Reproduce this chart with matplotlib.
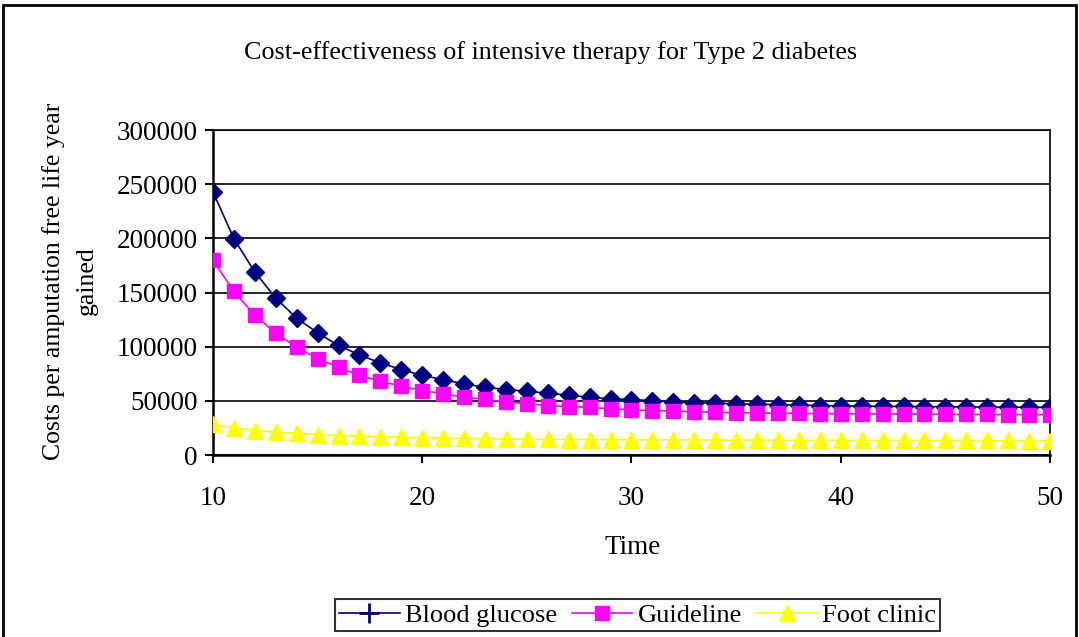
import matplotlib
matplotlib.use("Agg")
import matplotlib.pyplot as plt
from matplotlib.lines import Line2D
from matplotlib.patches import Rectangle

plt.rcParams["font.family"] = ["Liberation Serif", "DejaVu Serif"]

# x axis: time in years
years = list(range(10, 51))

blood_glucose = [242800, 199600, 168900, 144800, 126300, 112800, 101100, 92400, 85000, 78900,
                 73400, 69700, 65600, 62600, 60400, 58900, 57000, 55200, 53300, 51800,
                 51200, 50200, 48700, 48300, 47800, 47300, 46900, 46500, 46000, 45700,
                 45400, 45200, 45000, 44800, 44700, 44500, 44400, 44300, 44200, 44100, 44000]

guideline = [179700, 151000, 128800, 112500, 99500, 88700, 81100, 73400, 68100, 63500,
             59500, 56400, 53400, 51300, 49000, 47300, 45700, 44700, 44000, 42600,
             41700, 41000, 40600, 39800, 39300, 39000, 38800, 38600, 38400, 38200,
             38100, 38000, 37900, 37800, 37600, 37500, 37400, 37400, 37300, 37300, 37200]

foot_clinic = [28400, 24700, 22600, 21000, 20100, 18900, 18000, 17300, 16900, 16400,
               15900, 15600, 15300, 15000, 14800, 14600, 14400, 14300, 14200, 14100,
               14000, 13900, 13900, 13800, 13800, 13700, 13700, 13700, 13600, 13600,
               13600, 13500, 13500, 13500, 13500, 13400, 13400, 13400, 13400, 13300, 13300]

series_names = ["Blood glucose", "Guideline", "Foot clinic"]
y_ticks = [0, 50000, 100000, 150000, 200000, 250000, 300000]
x_ticks = [10, 20, 30, 40, 50]

navy = "#000080"
magenta = "#FF00FF"
yellow = "#FFFF00"

fig = plt.figure(figsize=(10.79, 6.37), dpi=100)
ax = fig.add_axes([0.1974, 0.2857, 0.7757, 0.5102])

ax.plot(years, foot_clinic, color=yellow, lw=1.2, marker="^", ms=11,
        markerfacecolor=yellow, markeredgecolor=yellow, zorder=3)
ax.plot(years, guideline, color=magenta, lw=1.2, marker="s", ms=10,
        markerfacecolor=magenta, markeredgecolor=magenta, zorder=3)
ax.plot(years, blood_glucose, color=navy, lw=1.2, marker="D", ms=9.5,
        markerfacecolor=navy, markeredgecolor=navy, zorder=2.9)

ax.set_xlim(10, 50)
ax.set_ylim(0, 300000)
ax.set_xticks(x_ticks)
ax.set_yticks(y_ticks)
ax.set_yticklabels([str(v) for v in y_ticks])
ax.yaxis.grid(True, color="black", lw=1.2)
ax.set_axisbelow(True)
for s in ax.spines.values():
    s.set_color("black")
    s.set_linewidth(1.2)
ax.spines["left"].set_linewidth(1.8)
ax.spines["bottom"].set_linewidth(1.8)
ax.tick_params(axis="both", direction="out", length=6, width=1.5, labelsize=19.5, color="black")
ax.tick_params(axis="x", pad=16)
ax.tick_params(axis="y", pad=5)

fig.text(0.51, 0.918, "Cost-effectiveness of intensive therapy for Type 2 diabetes",
         ha="center", va="center", fontsize=18.8)
fig.text(0.586, 0.14, "Time", ha="center", va="center", fontsize=19.5)
fig.text(0.065, 0.559, "Costs per amputation free life year\ngained", ha="center", va="center",
         rotation=90, fontsize=18.5, linespacing=1.65)

handles = [
    Line2D([], [], color=navy, lw=1.2, marker="+", ms=14, mew=2),
    Line2D([], [], color=magenta, lw=1.2, marker="s", ms=10),
    Line2D([], [], color=yellow, lw=1.2, marker="^", ms=11),
]
leg = fig.legend(handles, series_names, loc="center", bbox_to_anchor=(0.591, 0.0345), ncol=3,
                 fontsize=19, frameon=True, fancybox=False, edgecolor="black",
                 handlelength=2.3, handletextpad=0.2, columnspacing=0.55, borderpad=0.15)
leg.get_frame().set_linewidth(1.5)

fig.patches.append(Rectangle((0.003, -0.02), 0.994, 1.012, transform=fig.transFigure,
                             fill=False, edgecolor="black", lw=2))

fig.savefig("out.png", dpi=100)
